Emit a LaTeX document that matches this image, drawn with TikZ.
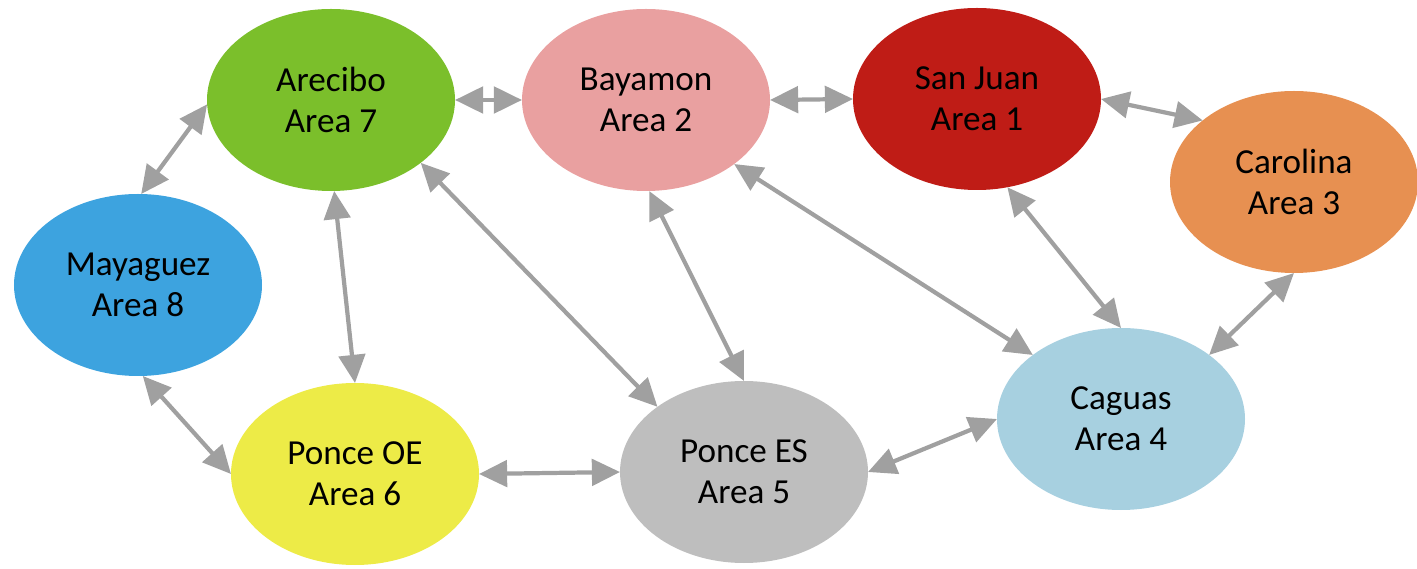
\documentclass[tikz,border=0pt]{standalone}
\usepackage{fontspec}
\setmainfont{Carlito}
\usepackage{tikz}
\usetikzlibrary{
  arrows.meta,
  shapes.geometric
}
\usepackage{xcolor}
\definecolor{cgreen}{RGB}{123,191,43}
\definecolor{cpink}{RGB}{233,160,160}
\definecolor{cred}{RGB}{191,28,22}
\definecolor{corange}{RGB}{231,144,81}
\definecolor{cblue}{RGB}{61,163,223}
\definecolor{cyellow}{RGB}{237,235,71}
\definecolor{cgray}{RGB}{190,190,190}
\definecolor{lblue}{RGB}{167,208,224}
\definecolor{carrow}{RGB}{160,160,160}
\tikzset{
  area/.style={
    ellipse, fill=#1, draw=none,
    minimum width=4.96cm, minimum height=3.64cm,
    inner sep=0pt, outer sep=0pt,
    font=\fontsize{20}{23.3}\selectfont, align=center
  },
  link/.style={
    {Triangle[length=16pt,width=15pt]}-{Triangle[length=16pt,width=15pt]},
    line width=2.4pt, color=carrow
  }
}

\begin{document}
\begin{tikzpicture}

    \useasboundingbox (0,0) rectangle (28.34,-11.38);

    %% Areas
    \node[area=cgreen]  (arecibo)  at (6.62,-2.00)  {Arecibo\\Area 7};
    \node[area=cpink]   (bayamon)  at (12.92,-2.00) {Bayamon\\Area 2};
    \node[area=cred]    (sanjuan)  at (19.54,-1.98) {San Juan\\Area 1};
    \node[area=corange] (carolina) at (25.88,-3.64) {Carolina\\Area 3};
    \node[area=cblue]   (mayaguez) at (2.76,-5.70)  {Mayaguez\\Area 8};
    \node[area=cyellow] (ponceoe)  at (7.10,-9.48)  {Ponce OE\\Area 6};
    \node[area=cgray]   (poncees)  at (14.88,-9.44) {Ponce ES\\Area 5};
    \node[area=lblue]   (caguas)   at (22.42,-8.38) {Caguas\\Area 4};

    %% Links
    \draw[link] (arecibo.east) -- (bayamon.west);
    \draw[link] (bayamon.east) -- (sanjuan.west);
    \draw[link] (sanjuan.0) -- (carolina.146);
    \draw[link] (arecibo.182) -- (mayaguez.88);
    \draw[link] (mayaguez.273) -- (ponceoe.west);
    \draw[link] (arecibo.-88) -- (ponceoe.north);
    \draw[link] (arecibo.-35) -- (poncees.143);
    \draw[link] (bayamon.-88) -- (poncees.north);
    \draw[link] (bayamon.-36) -- (caguas.144);
    \draw[link] (sanjuan.-71) -- (caguas.north);
    \draw[link] (carolina.south) -- (caguas.36);
    \draw[link] (ponceoe.east) -- (poncees.west);
    \draw[link] (poncees.east) -- (caguas.west);

\end{tikzpicture}
\end{document}
